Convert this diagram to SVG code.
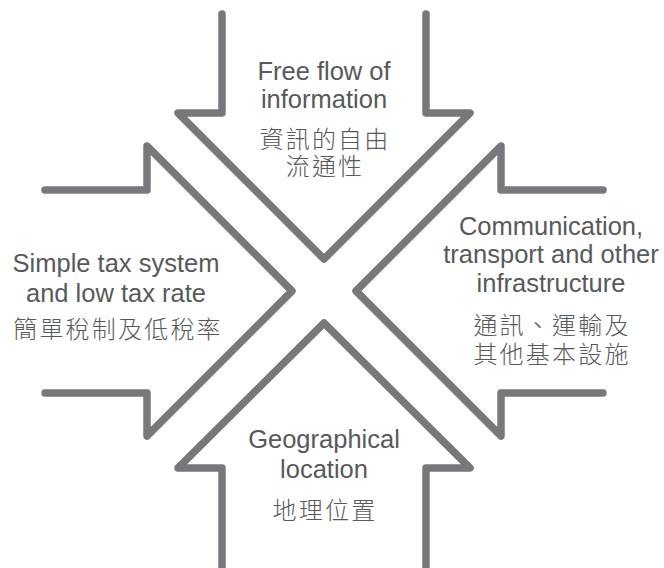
<svg xmlns="http://www.w3.org/2000/svg" width="664" height="568" viewBox="0 0 664 568">
<style>
.arrow{fill:none;stroke:#77787b;stroke-width:7.5;stroke-linejoin:round;stroke-linecap:round}
.en{font-family:"Liberation Sans","Noto Sans",Arial,sans-serif;font-size:25.5px;fill:#58595b;text-anchor:middle}
.zh{font-family:"Noto Sans CJK TC","Noto Sans CJK SC",sans-serif;font-size:24px;letter-spacing:2.2px;fill:#58595b;text-anchor:middle;font-weight:300}
</style>
<rect width="664" height="568" fill="#ffffff"/>
<g id="connectors"></g>
<g id="arrow-top">
<path class="arrow" d="M222,14 V113 H178 L324,259 L470,113 H426 V14"/>
<text class="en" x="324" y="80">Free flow of</text>
<text class="en" x="324" y="108">information</text>
<text class="zh" x="325" y="148">資訊的自由</text>
<text class="zh" x="325" y="175">流通性</text>
</g>
<g id="arrow-left">
<path class="arrow" d="M45,190 H147 V146 L292,291 L147,436 V393 H45"/>
<text class="en" x="116" y="272">Simple tax system</text>
<text class="en" x="116" y="302">and low tax rate</text>
<text class="zh" x="118" y="338">簡單稅制及低稅率</text>
</g>
<g id="arrow-right">
<path class="arrow" d="M603,190 H501 V146 L356,291 L501,436 V393 H603"/>
<text class="en" x="551" y="235">Communication,</text>
<text class="en" x="551" y="263">transport and other</text>
<text class="en" x="551" y="292">infrastructure</text>
<text class="zh" x="552" y="334">通訊、運輸及</text>
<text class="zh" x="552" y="363">其他基本設施</text>
</g>
<g id="arrow-bottom">
<path class="arrow" d="M222,572 V468 H178 L324,323 L470,468 H426 V572"/>
<text class="en" x="324" y="448">Geographical</text>
<text class="en" x="324" y="478">location</text>
<text class="zh" x="325" y="519">地理位置</text>
</g>
</svg>
